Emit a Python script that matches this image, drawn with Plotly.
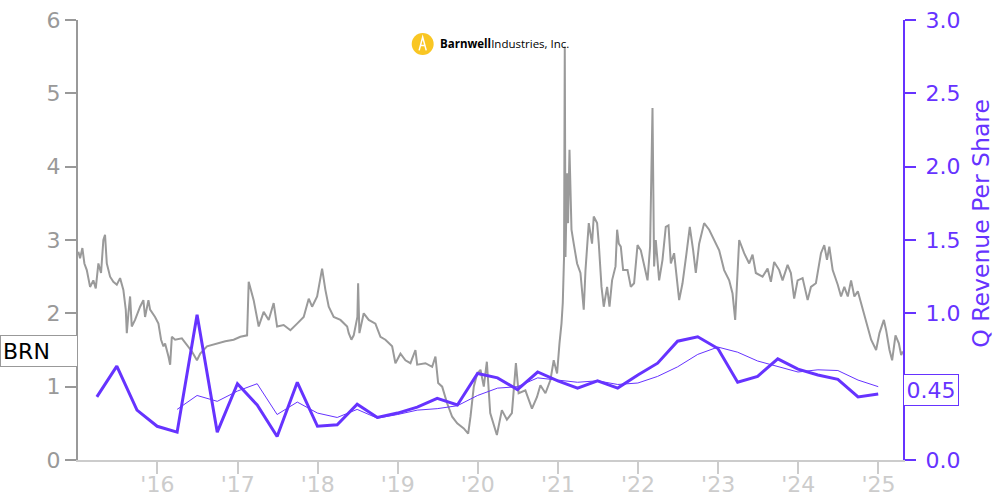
import pandas as pd
import plotly.graph_objects as go

# ---------------- data ----------------
# Quarter-end dates for revenue per share
rev_dates = [
    "2015-03-31", "2015-06-30", "2015-09-30", "2015-12-31",
    "2016-03-31", "2016-06-30", "2016-09-30", "2016-12-31",
    "2017-03-31", "2017-06-30", "2017-09-30", "2017-12-31",
    "2018-03-31", "2018-06-30", "2018-09-30", "2018-12-31",
    "2019-03-31", "2019-06-30", "2019-09-30", "2019-12-31",
    "2020-03-31", "2020-06-30", "2020-09-30", "2020-12-31",
    "2021-03-31", "2021-06-30", "2021-09-30", "2021-12-31",
    "2022-03-31", "2022-06-30", "2022-09-30", "2022-12-31",
    "2023-03-31", "2023-06-30", "2023-09-30", "2023-12-31",
    "2024-03-31", "2024-06-30", "2024-09-30", "2024-12-31",
]
q_revenue = [
    0.43, 0.64, 0.34, 0.23,
    0.19, 0.99, 0.19, 0.52,
    0.375, 0.16, 0.53, 0.23,
    0.24, 0.38, 0.29, 0.32,
    0.36, 0.42, 0.375, 0.59,
    0.56, 0.48, 0.60, 0.54,
    0.49, 0.54, 0.49, 0.58,
    0.66, 0.81, 0.84, 0.76,
    0.53, 0.57, 0.69, 0.62,
    0.58, 0.55, 0.43, 0.45,
]
# trailing four-quarter average (thin line), starts at 2016-03-31
avg_dates = rev_dates[4:]
avg_revenue = [
    0.345, 0.44, 0.40, 0.47,
    0.52, 0.31, 0.395, 0.32,
    0.29, 0.345, 0.285, 0.31,
    0.34, 0.35, 0.37, 0.44,
    0.49, 0.50, 0.56, 0.545,
    0.53, 0.54, 0.515, 0.525,
    0.57, 0.635, 0.72, 0.77,
    0.735, 0.675, 0.64, 0.60,
    0.615, 0.61, 0.545, 0.50,
]

# Share price (decimal year, price)
price_years = [
    2015.013, 2015.034, 2015.063, 2015.088, 2015.118, 2015.159, 2015.200, 2015.230,
    2015.263, 2015.296, 2015.325, 2015.346, 2015.368, 2015.409, 2015.450, 2015.493,
    2015.534, 2015.575, 2015.605, 2015.618, 2015.638, 2015.659, 2015.680, 2015.721,
    2015.784, 2015.825, 2015.846, 2015.888, 2015.909, 2015.971, 2016.013, 2016.046,
    2016.075, 2016.096, 2016.138, 2016.159, 2016.180, 2016.221, 2016.305, 2016.368,
    2016.430, 2016.493, 2016.534, 2016.618, 2016.680, 2016.743, 2016.846, 2016.950,
    2017.034, 2017.118, 2017.128, 2017.138, 2017.200, 2017.263, 2017.325, 2017.388,
    2017.450, 2017.493, 2017.575, 2017.659, 2017.743, 2017.825, 2017.888, 2017.930,
    2017.993, 2018.055, 2018.096, 2018.138, 2018.200, 2018.284, 2018.368, 2018.388,
    2018.421, 2018.450, 2018.496, 2018.505, 2018.521, 2018.575, 2018.638, 2018.721,
    2018.784, 2018.846, 2018.930, 2018.971, 2019.034, 2019.096, 2019.159, 2019.221,
    2019.243, 2019.346, 2019.430, 2019.471, 2019.505, 2019.555, 2019.618, 2019.680,
    2019.743, 2019.825, 2019.880, 2019.909, 2019.950, 2019.993, 2020.034, 2020.075,
    2020.113, 2020.155, 2020.238, 2020.300, 2020.363, 2020.425, 2020.475, 2020.509,
    2020.593, 2020.675, 2020.738, 2020.780, 2020.843, 2020.905, 2020.946, 2020.988,
    2021.018, 2021.043, 2021.059, 2021.075, 2021.084, 2021.093, 2021.113, 2021.125,
    2021.143, 2021.168, 2021.196, 2021.238, 2021.280, 2021.321, 2021.343, 2021.384,
    2021.425, 2021.446, 2021.488, 2021.509, 2021.543, 2021.571, 2021.613, 2021.643,
    2021.675, 2021.718, 2021.738, 2021.759, 2021.784, 2021.813, 2021.868, 2021.909,
    2021.950, 2021.993, 2022.034, 2022.075, 2022.118, 2022.150, 2022.180, 2022.200,
    2022.221, 2022.263, 2022.305, 2022.346, 2022.380, 2022.409, 2022.450, 2022.513,
    2022.555, 2022.605, 2022.646, 2022.688, 2022.721, 2022.763, 2022.825, 2022.888,
    2022.950, 2023.013, 2023.075, 2023.138, 2023.180, 2023.213, 2023.263, 2023.325,
    2023.388, 2023.430, 2023.471, 2023.555, 2023.618, 2023.659, 2023.700, 2023.763,
    2023.805, 2023.868, 2023.909, 2023.950, 2023.993, 2024.055, 2024.118, 2024.159,
    2024.221, 2024.284, 2024.325, 2024.359, 2024.388, 2024.430, 2024.493, 2024.534,
    2024.575, 2024.618, 2024.659, 2024.700, 2024.743, 2024.805, 2024.868, 2024.909,
    2024.971, 2025.013, 2025.068, 2025.096, 2025.138, 2025.171, 2025.213, 2025.255,
    2025.284, 2025.305,
]
price_values = [
    2.84, 2.75, 2.89, 2.68, 2.59, 2.36, 2.45, 2.34,
    2.68, 2.55, 3.00, 3.07, 2.68, 2.50, 2.43, 2.39,
    2.48, 2.32, 2.05, 1.73, 2.00, 2.23, 1.82, 1.91,
    2.09, 2.18, 1.95, 2.18, 2.05, 1.95, 1.86, 1.64,
    1.55, 1.59, 1.41, 1.30, 1.68, 1.64, 1.66, 1.57,
    1.48, 1.36, 1.45, 1.55, 1.57, 1.59, 1.62, 1.64,
    1.68, 1.70, 2.35, 2.43, 2.18, 1.82, 2.02, 1.91,
    2.14, 1.82, 1.84, 1.77, 1.86, 1.95, 2.20, 2.09,
    2.23, 2.61, 2.32, 2.09, 1.95, 1.91, 1.82, 1.73,
    1.64, 1.70, 1.95, 2.41, 1.73, 2.00, 1.91, 1.86,
    1.68, 1.64, 1.55, 1.32, 1.45, 1.36, 1.32, 1.50,
    1.30, 1.32, 1.27, 1.41, 1.05, 1.00, 0.77, 0.59,
    0.50, 0.43, 0.36, 0.59, 1.00, 1.18, 1.23, 1.00,
    1.34, 0.64, 0.34, 0.68, 0.55, 0.64, 1.32, 0.91,
    0.95, 0.70, 0.86, 1.02, 0.91, 1.09, 1.36, 1.18,
    1.59, 1.86, 2.14, 2.77, 5.64, 2.77, 3.91, 3.23,
    4.23, 3.14, 2.95, 2.68, 2.55, 2.05, 2.59, 3.23,
    2.95, 3.32, 3.23, 2.95, 2.36, 2.09, 2.36, 2.09,
    2.45, 2.64, 3.14, 2.95, 2.91, 2.59, 2.59, 2.36,
    2.41, 2.93, 2.86, 2.64, 2.45, 2.91, 4.80, 2.64,
    3.00, 2.45, 2.73, 3.18, 3.20, 2.68, 2.82, 2.18,
    2.41, 2.82, 3.18, 2.86, 2.55, 2.95, 3.23, 3.14,
    3.00, 2.86, 2.59, 2.45, 2.27, 1.91, 3.00, 2.82,
    2.68, 2.80, 2.55, 2.50, 2.61, 2.43, 2.70, 2.59,
    2.45, 2.66, 2.55, 2.20, 2.45, 2.48, 2.18, 2.36,
    2.41, 2.82, 2.93, 2.73, 2.91, 2.59, 2.39, 2.23,
    2.36, 2.23, 2.45, 2.23, 2.30, 2.05, 1.77, 1.64,
    1.50, 1.73, 1.91, 1.77, 1.50, 1.36, 1.70, 1.59,
    1.43, 1.48,
]

left_ticks = [0, 1, 2, 3, 4, 5, 6]
right_ticks = [0.0, 1.0, 1.5, 2.0, 2.5, 3.0]   # 0.5 hidden behind the value box
ticker = "BRN"
last_rev_label = "0.45"
company = "Barnwell"
company_rest = "Industries, Inc."
y2_title = "Q Revenue Per Share"


def year_to_date(d):
    y = int(d)
    start = pd.Timestamp(year=y, month=1, day=1)
    end = pd.Timestamp(year=y + 1, month=1, day=1)
    return start + (end - start) * (d - y)


price_dates = [year_to_date(d) for d in price_years]

# ---------------- style ----------------
PURPLE = "#6633ff"
GRAY = "#999999"
LIGHT = "#cccccc"
FONT = "DejaVu Sans"

fig = go.Figure()
fig.add_trace(go.Scatter(x=price_dates, y=price_values, mode="lines",
                         line=dict(color="#9a9a9a", width=2), yaxis="y",
                         showlegend=False))
fig.add_trace(go.Scatter(x=avg_dates, y=avg_revenue, mode="lines",
                         line=dict(color=PURPLE, width=1), yaxis="y2",
                         showlegend=False))
fig.add_trace(go.Scatter(x=rev_dates, y=q_revenue, mode="lines",
                         line=dict(color=PURPLE, width=3), yaxis="y2",
                         showlegend=False))

fig.update_layout(
    width=1000, height=500,
    margin=dict(l=78, r=97, t=20, b=40, autoexpand=False),
    paper_bgcolor="white", plot_bgcolor="white",
    font=dict(family=FONT, size=22),
    xaxis=dict(
        type="date", automargin=False,
        range=["2015-01-04", "2025-04-23"],
        dtick="M12", tick0="2016-01-01", tickformat="'%y",
        showgrid=False, zeroline=False,
        showline=True, linecolor=LIGHT, linewidth=2,
        ticks="outside", ticklen=12, tickwidth=2, tickcolor=LIGHT,
        tickfont=dict(color=LIGHT, size=22), ticklabelstandoff=-8,
    ),
    yaxis=dict(
        automargin=False,
        range=[0, 6], tickvals=left_ticks, showgrid=False, zeroline=False,
        showline=True, linecolor=GRAY, linewidth=2,
        ticks="outside", ticklen=11, tickwidth=2, tickcolor=GRAY,
        tickfont=dict(color=GRAY, size=22),
    ),
    yaxis2=dict(
        automargin=False,
        range=[0, 3], tickvals=right_ticks, tickformat=".1f",
        overlaying="y", side="right",
        showgrid=False, zeroline=False,
        showline=True, linecolor=PURPLE, linewidth=2,
        ticks="outside", ticklen=11, tickwidth=2, tickcolor=PURPLE,
        tickfont=dict(color=PURPLE, size=22), ticklabelstandoff=5,
    ),
)

# right-axis title as rotated text
fig.add_annotation(
    x=1.0935, xref="paper", xanchor="center",
    y=0.5375, yref="paper", yanchor="middle",
    text=y2_title, textangle=-90, showarrow=False,
    font=dict(color=PURPLE, size=23.5, family=FONT),
)

# ticker label box on left axis at last price
fig.add_annotation(
    x=0, xref="paper", xanchor="right", y=price_values[-1], yref="y",
    text=ticker, showarrow=False, align="left",
    font=dict(color="black", size=22, family=FONT),
    bgcolor="white", bordercolor=GRAY, borderwidth=1, borderpad=2,
    width=72, height=26,
)
# last revenue label on right axis
fig.add_annotation(
    x=1, xref="paper", xanchor="left", y=0.476, yref="y2",
    text=last_rev_label, showarrow=False,
    font=dict(color=PURPLE, size=22, family=FONT),
    bgcolor="white", bordercolor=PURPLE, borderwidth=1, borderpad=2,
    width=50, height=26,
)

# logo
fig.add_shape(type="circle", xref="paper", yref="paper",
              x0=0.4045, x1=0.4311, y0=0.9205, y1=0.9705,
              fillcolor="#f9c623", line=dict(width=0))
fig.add_shape(type="path", xref="paper", yref="paper",
              path="M 0.4135 0.931 L 0.4178 0.961 L 0.4221 0.931 M 0.4150 0.942 L 0.4206 0.942",
              line=dict(color="white", width=1.5))
fig.add_annotation(
    x=0.4367, xref="paper", xanchor="left", y=0.9455, yref="paper", yanchor="middle",
    text=f"<b>{company}</b>{company_rest}", showarrow=False,
    font=dict(color="black", size=11.5, family="Open Sans"),
)

fig.write_html("out.html", config={"displayModeBar": False},
               post_script="document.body.style.margin='0';document.body.style.padding='0';")
